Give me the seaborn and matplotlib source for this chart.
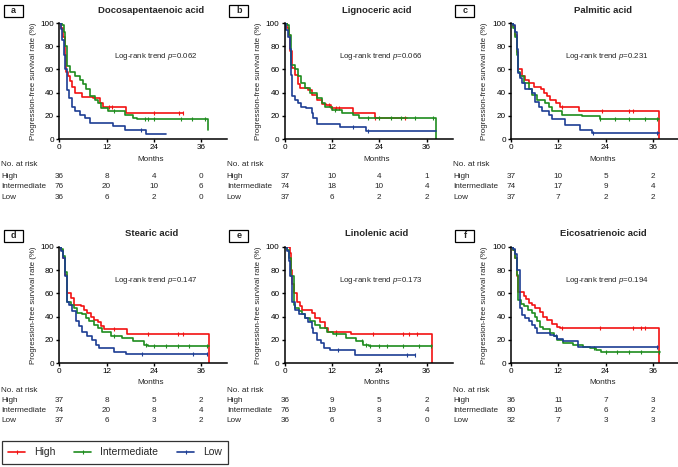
import numpy as np
import matplotlib
matplotlib.use("Agg")
import matplotlib.pyplot as plt
from matplotlib import transforms
from matplotlib.lines import Line2D
from matplotlib.patches import Rectangle
import seaborn as sns

# ---------------- data ----------------
groups = ["High", "Intermediate", "Low"]
colors = ["#F21212", "#1E8C1E", "#1C3D94"]
xticks = [0, 12, 24, 36]

titles = ["Docosapentaenoic acid", "Lignoceric acid", "Palmitic acid",
          "Stearic acid", "Linolenic acid", "Eicosatrienoic acid"]
letters = ["a", "b", "c", "d", "e", "f"]
pvalues = ["0.062", "0.066", "0.231", "0.147", "0.173", "0.194"]

# panel a
a_high_t = [0, 0.5, 1.0, 1.4, 1.8, 2.3, 2.8, 3.3, 4.0, 5.7, 8.5, 10.3, 11.0, 17.0, 31.5]
a_high_s = [100, 96, 88, 72, 58, 54, 50, 45, 40, 36, 35, 31, 28, 22, 22]
a_high_c = [12.5, 13.3, 24.0, 30.5, 31.5]
a_mid_t = [0, 0.6, 1.1, 1.5, 1.9, 2.7, 4.0, 5.2, 6.1, 6.9, 7.8, 9.0, 9.9, 10.7, 12.4, 16.7, 18.8, 19.6, 37.8]
a_mid_s = [100, 98, 92, 80, 63, 58, 54, 51, 47, 43, 37, 34, 31, 27, 24, 21, 18, 17, 8]
a_mid_c = [13.8, 21.7, 22.5, 24.0, 31.0, 33.7, 37.0]
a_low_t = [0, 0.4, 0.8, 1.2, 1.5, 1.9, 2.5, 3.2, 4.0, 5.2, 6.5, 7.8, 13.7, 16.7, 22.1, 27.2]
a_low_s = [100, 95, 85, 72, 60, 42, 35, 28, 24, 21, 18, 14, 11, 8, 4, 4]
a_low_c = [20.7]

# panel b
b_high_t = [0, 0.6, 1.0, 1.4, 1.9, 2.5, 3.4, 3.8, 6.0, 7.0, 8.1, 9.4, 10.5, 11.6, 17.4, 22.8, 31.0]
b_high_s = [100, 96, 90, 76, 61, 55, 47, 44, 42, 38, 34, 30, 29, 27, 22, 18, 18]
b_high_c = [11.3, 12.0, 13.0, 13.8, 23.0, 30.5]
b_mid_t = [0, 0.6, 1.0, 1.6, 2.5, 3.4, 4.2, 5.1, 6.4, 8.1, 9.4, 10.3, 12.0, 14.6, 17.2, 18.9, 38.3]
b_mid_s = [100, 98, 90, 64, 60, 54, 48, 44, 40, 35, 31, 28, 25, 22, 21, 18, 0]
b_mid_c = [12.8, 21.0, 24.0, 27.0, 29.5, 33.0, 37.5]
b_low_t = [0, 0.4, 0.8, 1.2, 1.6, 1.9, 2.5, 3.4, 4.2, 5.5, 6.8, 7.2, 8.1, 14.1, 20.6, 38.3]
b_low_s = [100, 94, 88, 78, 55, 37, 34, 31, 28, 27, 22, 18, 13, 10, 7, 7]
b_low_c = [17.3, 21.0]

# panel c
c_high_t = [0, 0.5, 1.0, 1.4, 1.8, 2.8, 3.6, 4.5, 5.8, 7.5, 8.3, 9.2, 10.0, 11.3, 12.5, 17.2, 37.5]
c_high_s = [100, 97, 90, 75, 60, 54, 51, 48, 45, 43, 40, 37, 34, 31, 28, 24, 0]
c_high_c = [13.0, 23.0, 30.0, 31.0]
c_mid_t = [0, 0.5, 1.0, 1.4, 1.8, 2.4, 3.2, 4.5, 5.3, 6.6, 8.7, 9.6, 10.4, 13.0, 18.1, 22.7, 37.5]
c_mid_s = [100, 96, 88, 72, 58, 54, 48, 43, 38, 34, 31, 28, 24, 21, 20, 17, 17]
c_mid_c = [22.7, 26.5, 30.0, 34.0, 37.0]
c_low_t = [0, 0.6, 1.0, 1.4, 1.8, 2.4, 2.8, 3.6, 5.3, 6.2, 7.0, 7.9, 9.6, 10.4, 13.8, 17.6, 20.6, 37.5]
c_low_s = [100, 98, 92, 78, 57, 53, 48, 43, 40, 32, 28, 24, 21, 17, 12, 8, 5, 5]
c_low_c = [20.8, 37.0]

# panel d
d_high_t = [0, 0.5, 1.0, 1.5, 2.0, 2.9, 3.7, 5.4, 6.3, 7.1, 8.0, 8.8, 9.7, 10.5, 11.4, 17.3, 37.9]
d_high_s = [100, 97, 90, 76, 60, 56, 50, 49, 46, 43, 40, 37, 35, 32, 29, 25, 0]
d_high_c = [14.0, 22.5, 30.0, 31.5]
d_mid_t = [0, 0.5, 1.0, 1.5, 2.0, 2.9, 3.7, 4.6, 5.8, 6.7, 7.5, 8.8, 9.7, 10.9, 13.1, 16.0, 18.6, 21.5, 22.4, 37.9]
d_mid_s = [100, 98, 92, 78, 53, 50, 47, 43, 42, 39, 36, 33, 30, 27, 23, 22, 19, 16, 15, 15]
d_mid_c = [14.0, 22.0, 24.0, 27.0, 30.0, 33.0, 37.5]
d_low_t = [0, 0.5, 1.0, 1.5, 2.0, 2.5, 3.3, 4.2, 5.0, 5.8, 7.1, 8.4, 9.2, 10.1, 13.9, 16.9, 37.6]
d_low_s = [100, 96, 90, 75, 53, 50, 45, 36, 32, 27, 23, 20, 16, 13, 10, 8, 8]
d_low_c = [21.0, 34.0, 37.6]

# panel e
e_high_t = [0, 1.2, 1.5, 1.8, 2.25, 3.1, 3.75, 4.3, 6.8, 7.7, 8.9, 10.2, 11.0, 16.8, 37.4]
e_high_s = [100, 95, 80, 68, 60, 53, 49, 46, 43, 39, 35, 30, 27, 25, 0]
e_high_c = [13.0, 22.5, 30.0, 31.5, 33.5]
e_mid_t = [0, 0.5, 1.0, 1.5, 2.25, 2.7, 3.5, 4.3, 5.2, 6.4, 7.7, 8.9, 10.6, 12.25, 15.6, 18.1, 19.75, 21.4, 37.25]
e_mid_s = [100, 97, 90, 75, 50, 47, 45, 42, 39, 36, 33, 30, 27, 25, 22, 19, 16, 15, 15]
e_mid_c = [13.0, 19.5, 20.5, 21.5, 24.0, 26.0, 30.0, 34.0, 37.0]
e_low_t = [0, 0.5, 1.0, 1.4, 1.8, 2.7, 3.5, 5.2, 6.0, 6.8, 7.25, 8.1, 9.3, 10.0, 11.5, 17.7, 33.1]
e_low_s = [100, 96, 88, 75, 53, 46, 42, 39, 35, 30, 26, 20, 17, 13, 11, 7, 7]
e_low_c = [13.5, 31.0, 33.1]

# panel f
f_high_t = [0, 0.5, 1.0, 1.5, 1.9, 3.2, 3.9, 4.5, 5.3, 6.1, 7.4, 8.2, 9.1, 10.3, 11.6, 12.4, 37.6]
f_high_s = [100, 97, 90, 75, 61, 58, 55, 52, 50, 47, 44, 40, 37, 34, 31, 30, 0]
f_high_c = [13.0, 22.5, 31.0, 33.0, 34.0]
f_mid_t = [0, 0.5, 1.0, 1.5, 1.9, 2.5, 3.4, 4.2, 5.3, 6.1, 6.7, 7.4, 8.2, 9.9, 10.8, 11.6, 13.3, 15.8, 18.3, 20.0, 21.7, 22.9, 37.8]
f_mid_s = [100, 97, 90, 76, 54, 51, 49, 46, 43, 40, 36, 31, 29, 26, 23, 20, 17, 16, 14, 13, 11, 10, 10]
f_mid_c = [21.0, 24.0, 27.0, 30.0, 33.0, 37.5]
f_low_t = [0, 0.5, 1.0, 1.5, 2.2, 2.8, 3.6, 4.5, 5.3, 6.1, 6.7, 9.9, 10.8, 11.6, 13.3, 17.1, 37.2]
f_low_s = [100, 98, 94, 80, 47, 41, 39, 36, 33, 30, 26, 24, 23, 21, 19, 14, 14]
f_low_c = [11.5, 37.0]

# numbers at risk (rows: High, Intermediate, Low; columns: 0, 12, 24, 36 months)
a_risk = [[36, 8, 4, 0], [76, 20, 10, 6], [36, 6, 2, 0]]
b_risk = [[37, 10, 4, 1], [74, 18, 10, 4], [37, 6, 2, 2]]
c_risk = [[37, 10, 5, 2], [74, 17, 9, 4], [37, 7, 2, 2]]
d_risk = [[37, 8, 5, 2], [74, 20, 8, 4], [37, 6, 3, 2]]
e_risk = [[36, 9, 5, 2], [76, 19, 8, 4], [36, 6, 3, 0]]
f_risk = [[36, 11, 7, 3], [80, 16, 6, 2], [32, 7, 3, 3]]

curves = [
    [(a_high_t, a_high_s, a_high_c), (a_mid_t, a_mid_s, a_mid_c), (a_low_t, a_low_s, a_low_c)],
    [(b_high_t, b_high_s, b_high_c), (b_mid_t, b_mid_s, b_mid_c), (b_low_t, b_low_s, b_low_c)],
    [(c_high_t, c_high_s, c_high_c), (c_mid_t, c_mid_s, c_mid_c), (c_low_t, c_low_s, c_low_c)],
    [(d_high_t, d_high_s, d_high_c), (d_mid_t, d_mid_s, d_mid_c), (d_low_t, d_low_s, d_low_c)],
    [(e_high_t, e_high_s, e_high_c), (e_mid_t, e_mid_s, e_mid_c), (e_low_t, e_low_s, e_low_c)],
    [(f_high_t, f_high_s, f_high_c), (f_mid_t, f_mid_s, f_mid_c), (f_low_t, f_low_s, f_low_c)],
]
risks = [a_risk, b_risk, c_risk, d_risk, e_risk, f_risk]

# ---------------- style ----------------
sns.set_style("ticks")
plt.rcParams["font.family"] = ["Liberation Sans", "DejaVu Sans"]
plt.rcParams["mathtext.fontset"] = "custom"
plt.rcParams["mathtext.it"] = "Liberation Sans:italic"
plt.rcParams["mathtext.rm"] = "Liberation Sans"

W, H = 678, 467
fig = plt.figure(figsize=(W / 100, H / 100), dpi=100)


def fy(y):
    return 1 - y / H


lefts = [59.3, 284.8, 511.0]
rows = [
    dict(top=23.0, bottom=139.0, title=10.5, months=160, table=[165, 177, 187, 197], box=4.5),
    dict(top=246.7, bottom=363.3, title=233.5, months=383, table=[390, 401, 411, 421], box=229.5),
]
AXW = 168.0
XMAX = AXW / 3.94
FS = 5.9

for i in range(6):
    r = rows[i // 3]
    left = lefts[i % 3]
    ax = fig.add_axes([left / W, fy(r["bottom"]), AXW / W, (r["bottom"] - r["top"]) / H])
    for (t, s, c), col in zip(curves[i], colors):
        sns.lineplot(x=t, y=s, ax=ax, color=col, lw=1.2, drawstyle="steps-post",
                     estimator=None, sort=False, legend=False)
        t_arr = np.asarray(t)
        s_arr = np.asarray(s)
        idx = np.searchsorted(t_arr, np.asarray(c), side="right") - 1
        ax.plot(c, s_arr[idx], ls="none", marker="|", ms=3.2, mew=0.8, color=col)
    ax.set_xlim(0, XMAX)
    ax.set_ylim(0, 100)
    ax.set_xticks(xticks)
    ax.set_yticks(range(0, 101, 20))
    ax.set_xlabel("")
    ax.set_ylabel("")
    sns.despine(ax=ax)
    for sp in ["left", "bottom"]:
        ax.spines[sp].set_linewidth(1.1)
        ax.spines[sp].set_color("black")
    ax.tick_params(length=2.5, width=1.0, pad=1.2, labelsize=FS, direction="out", colors="black")

    bt = transforms.blended_transform_factory(ax.transData, fig.transFigure)
    ax.text(23.4, fy(r["title"]), titles[i], transform=bt, ha="center", va="center",
            fontsize=6.8, fontweight="bold")
    ax.text(23.3, fy(r["months"]), "Months", transform=bt, ha="center", va="center", fontsize=FS)
    ax.text(24.4, 70.7, "Log-rank trend $p$=" + pvalues[i], ha="center", va="center", fontsize=5.7)
    fig.text((left - 26) / W, fy((r["top"] + r["bottom"]) / 2), "Progression-free survival rate (%)",
             rotation=90, ha="center", va="center", fontsize=5.7)

    ty = r["table"]
    fig.text((left - 58) / W, fy(ty[0]), "No. at risk", ha="left", va="center", fontsize=FS)
    for g, (name, vals) in enumerate(zip(groups, risks[i])):
        fig.text((left - 58) / W, fy(ty[g + 1]), name, ha="left", va="center", fontsize=FS)
        for xt, v in zip(xticks, vals):
            ax.text(xt, fy(ty[g + 1]), str(v), transform=bt, ha="center", va="center", fontsize=FS)

    bx0 = left - 55.5
    fig.add_artist(Rectangle((bx0 / W, fy(r["box"] + 12)), 19 / W, 12 / H,
                             transform=fig.transFigure, fill=False, lw=0.9, ec="black"))
    fig.text((bx0 + 9.5) / W, fy(r["box"] + 6), letters[i], ha="center", va="center",
             fontsize=6.5, fontweight="bold")

handles = [Line2D([0], [0], color=c, lw=1.2, marker="|", ms=3.5, mew=0.8) for c in colors]
leg = fig.legend(handles, groups, loc="upper left", bbox_to_anchor=(2 / W, fy(441)), ncol=3,
                 frameon=True, fancybox=False, edgecolor="black", fontsize=7.5,
                 handlelength=1.6, handletextpad=0.9, columnspacing=1.8, borderpad=0.6,
                 borderaxespad=0, numpoints=1)
leg.get_frame().set_linewidth(0.9)

fig.savefig("out.png", dpi=100)
